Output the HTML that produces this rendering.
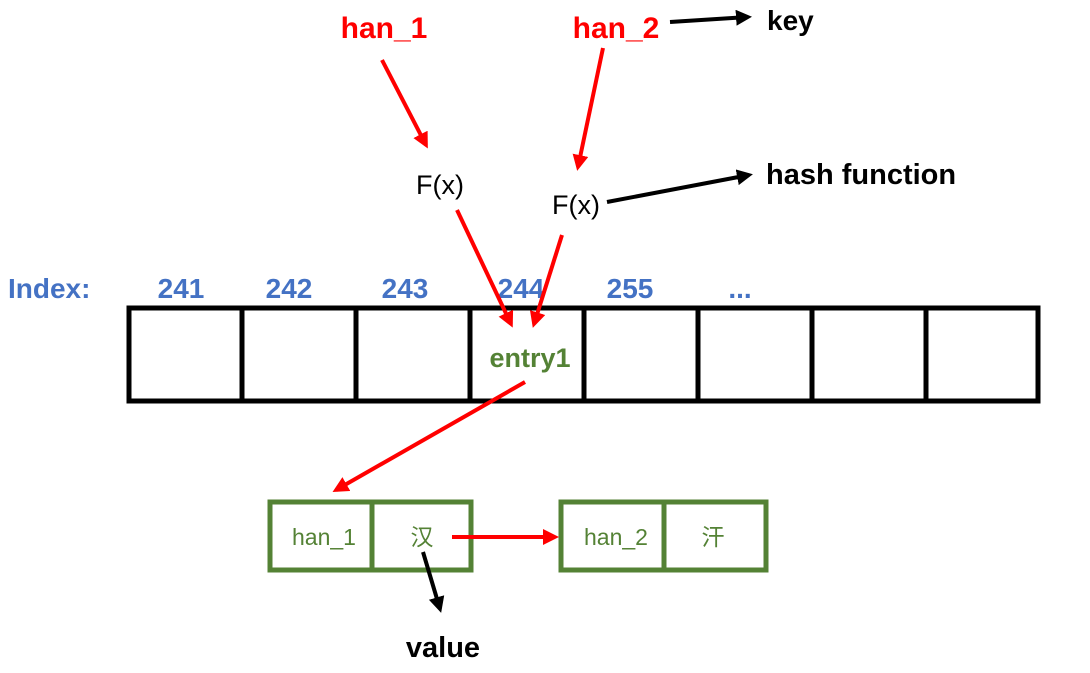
<!DOCTYPE html>
<html><head><meta charset="utf-8"><style>
body{margin:0;background:#fff}
svg{display:block}
text{font-family:"Liberation Sans","Noto Sans CJK SC",sans-serif}
.b{font-weight:bold}
</style></head><body>
<svg width="1090" height="673" viewBox="0 0 1090 673" xmlns="http://www.w3.org/2000/svg">
<defs>
<marker id="ar" markerWidth="4" markerHeight="4" refX="3" refY="2" orient="auto" markerUnits="strokeWidth"><path d="M0,0 L4,2 L0,4 Z" fill="#f00"/></marker>
<marker id="ak" markerWidth="4" markerHeight="4" refX="3" refY="2" orient="auto" markerUnits="strokeWidth"><path d="M0,0 L4,2 L0,4 Z" fill="#000"/></marker>
</defs>
<text x="384" y="38" text-anchor="middle" class="b" font-size="30" fill="#f00">han_1</text>
<text x="616" y="38" text-anchor="middle" class="b" font-size="30" fill="#f00">han_2</text>
<text x="767" y="30" class="b" font-size="28" fill="#000">key</text>
<text x="766" y="184" class="b" font-size="29" fill="#000">hash function</text>
<text x="440" y="194" text-anchor="middle" font-size="27" fill="#000">F(x)</text>
<text x="576" y="214" text-anchor="middle" font-size="27" fill="#000">F(x)</text>
<g class="b" font-size="28" fill="#4472C4">
<text x="8" y="298">Index:</text>
<text x="181" y="298" text-anchor="middle">241</text>
<text x="289" y="298" text-anchor="middle">242</text>
<text x="405" y="298" text-anchor="middle">243</text>
<text x="521" y="298" text-anchor="middle">244</text>
<text x="630" y="298" text-anchor="middle">255</text>
<text x="740" y="298" text-anchor="middle">...</text>
</g>
<rect x="129" y="308" width="909" height="93" fill="none" stroke="#000" stroke-width="5"/>
<g stroke="#000" stroke-width="5">
<line x1="242" y1="308" x2="242" y2="401"/><line x1="356" y1="308" x2="356" y2="401"/>
<line x1="470" y1="308" x2="470" y2="401"/><line x1="584" y1="308" x2="584" y2="401"/>
<line x1="698" y1="308" x2="698" y2="401"/><line x1="812" y1="308" x2="812" y2="401"/>
<line x1="926" y1="308" x2="926" y2="401"/>
</g>
<text x="530" y="367" text-anchor="middle" class="b" font-size="27" fill="#548235">entry1</text>
<g fill="none" stroke="#548235" stroke-width="5">
<rect x="270" y="502" width="201" height="68"/><line x1="372" y1="502" x2="372" y2="570"/>
<rect x="561" y="502" width="205" height="68"/><line x1="664" y1="502" x2="664" y2="570"/>
</g>
<g font-size="23" fill="#548235" text-anchor="middle">
<text x="324" y="545">han_1</text><text x="422" y="545">汉</text>
<text x="616" y="545">han_2</text><text x="713" y="545">汗</text>
</g>
<text x="443" y="657" text-anchor="middle" class="b" font-size="29" fill="#000">value</text>
<g stroke="#f00" stroke-width="4" fill="none" marker-end="url(#ar)">
<line x1="382" y1="60" x2="426" y2="145"/>
<line x1="603" y1="48" x2="578" y2="167"/>
<line x1="457" y1="210" x2="511" y2="324"/>
<line x1="562" y1="235" x2="534" y2="324"/>
<line x1="525" y1="382" x2="336" y2="490"/>
<line x1="452" y1="537" x2="555" y2="537"/>
</g>
<g stroke="#000" stroke-width="4" fill="none" marker-end="url(#ak)">
<line x1="670" y1="22" x2="748" y2="17"/>
<line x1="607" y1="202" x2="749" y2="175"/>
<line x1="423" y1="552" x2="440" y2="609"/>
</g>
</svg>
</body></html>
